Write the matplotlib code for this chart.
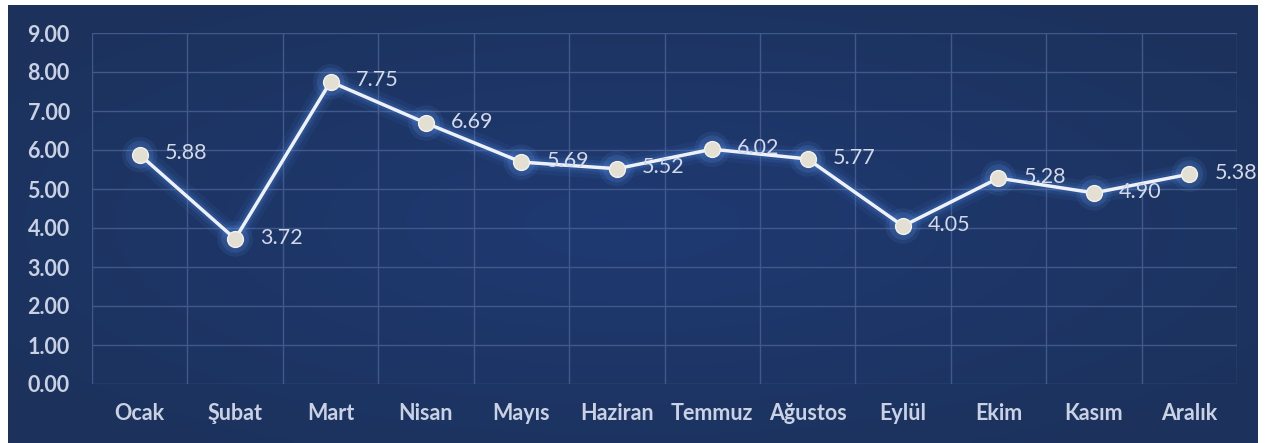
import matplotlib.pyplot as plt
from matplotlib.colors import LinearSegmentedColormap
import numpy as np

months = ['Ocak', 'Şubat', 'Mart', 'Nisan', 'Mayıs', 'Haziran', 'Temmuz',
          'Ağustos', 'Eylül', 'Ekim', 'Kasım', 'Aralık']
values = [5.88, 3.72, 7.75, 6.69, 5.69, 5.52, 6.02, 5.77, 4.05, 5.28, 4.90, 5.38]
y_ticks = [0, 1, 2, 3, 4, 5, 6, 7, 8, 9]

grid_col = '#41598a'
txt_col = '#c9d1e3'

plt.rcParams['font.family'] = ['Lato', 'DejaVu Sans']

fig = plt.figure(figsize=(12.71, 4.43), dpi=100, facecolor='white')

# dark blue panel, slightly lighter in the middle
bg_ax = fig.add_axes([8 / 1271, 0, 1250 / 1271, 438 / 443])
gx, gy = np.meshgrid(np.linspace(-1, 1, 200), np.linspace(-1, 1, 80))
glow = np.clip(1 - np.sqrt(gx ** 2 + gy ** 2) / 1.3, 0, 1)
bg_cmap = LinearSegmentedColormap.from_list('bg', ['#1c325c', '#1f3a72'])
bg_ax.imshow(glow, cmap=bg_cmap, aspect='auto', extent=(0, 1, 0, 1), interpolation='bilinear')
bg_ax.set_axis_off()

ax = fig.add_axes([92 / 1271, 59 / 443, 1145 / 1271, 351 / 443])
ax.set_facecolor('none')

x = np.arange(len(months))

# glow under the line
for lw, a in [(16, 0.07), (10, 0.12), (6, 0.18)]:
    ax.plot(x, values, color='#4f8be8', lw=lw, alpha=a, solid_capstyle='round', zorder=2)
for s, a in [(650, 0.10), (400, 0.16)]:
    ax.scatter(x, values, s=s, color='#5f9af2', alpha=a, edgecolors='none', zorder=2)

ax.plot(x, values, color='#eef2f8', lw=2.5, zorder=3)
ax.scatter(x, values, s=130, color='#e4dfd3', edgecolors='#f4f1ea', linewidths=1, zorder=4)

for xi, v in zip(x, values):
    ax.annotate('{:.2f}'.format(v), (xi, v), xytext=(18, 1), textcoords='offset points',
                ha='left', va='center', fontsize=15.5, color='#d3d9e7', zorder=5)

ax.set_xlim(-0.5, len(months) - 0.5)
ax.set_ylim(0, 9)
ax.set_yticks(y_ticks)
ax.set_yticklabels(['{:.2f}'.format(t) for t in y_ticks])
ax.set_xticks(x)
ax.set_xticklabels(months)
ax.set_xticks(np.arange(-0.5, len(months), 1), minor=True)

ax.grid(True, axis='y', which='major', color=grid_col, lw=1.0)
ax.grid(True, axis='x', which='minor', color=grid_col, lw=1.0)
ax.set_axisbelow(True)

for sp in ax.spines.values():
    sp.set_visible(False)
ax.tick_params(axis='both', which='both', length=0, colors=txt_col)
ax.tick_params(axis='y', pad=16, labelsize=15.5)
ax.tick_params(axis='x', pad=14, labelsize=15.5)
for lab in ax.get_xticklabels() + ax.get_yticklabels():
    lab.set_fontweight('bold')

fig.savefig('out.png', dpi=100, facecolor=fig.get_facecolor())
